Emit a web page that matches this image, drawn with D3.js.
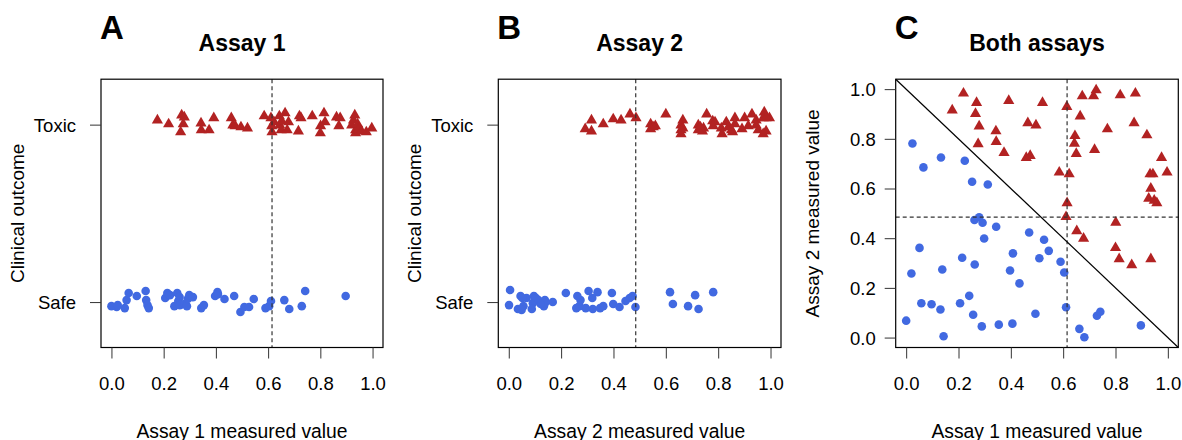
<!DOCTYPE html>
<meta charset="utf-8">
<style>
    body { margin: 0; background: white; }
    svg { font-family: "Liberation Sans", Arial, sans-serif; }
    .frame { fill: none; stroke: black; stroke-width: 1.2px; }
    .tick line { stroke: #333; }
    .tick text { font-size: 18.5px; fill: black; }
    .safe { fill: #4169E1; }
    .toxic { fill: #B22222; }
    .cut { stroke: #333; stroke-width: 1.2px; stroke-dasharray: 4,3; }
</style>
<svg></svg>
<script src="https://d3js.org/d3.v7.min.js"></script>
<script>
    var toxicA1 = [0.176, 0.219, 0.265, 0.269, 0.275, 0.279, 0.343, 0.344, 0.374, 0.392, 0.459, 0.465,
        0.474, 0.496, 0.521, 0.585, 0.611, 0.614, 0.615, 0.623, 0.643, 0.645, 0.650, 0.652,
        0.665, 0.673, 0.678, 0.716, 0.720, 0.726, 0.769, 0.800, 0.801, 0.814, 0.818, 0.862,
        0.871, 0.876, 0.920, 0.927, 0.932, 0.935, 0.935, 0.943, 0.948, 0.958, 0.976, 0.997];
    var toxicA2 = [0.915, 0.983, 0.901, 0.945, 0.779, 0.851, 0.831, 0.788, 0.744, 0.953, 0.724, 0.864,
        0.732, 0.855, 0.945, 0.665, 0.486, 0.929, 0.542, 0.658, 0.781, 0.812, 0.740, 0.429,
        0.891, 0.972, 0.399, 0.972, 0.756, 0.996, 0.839, 0.361, 0.463, 0.316, 0.976, 0.292,
        0.864, 0.983, 0.815, 0.560, 0.658, 0.600, 0.316, 0.658, 0.552, 0.542, 0.724, 0.665];
    var toxicJitA = [0.025, 0.003, -0.042, 0.053, 0.003, 0.042, 0.008, -0.031, -0.031, 0.037, 0.037, -0.003,
        -0.008, -0.014, -0.020, 0.048, 0.037, -0.008, -0.042, 0.014, 0.048, -0.003, -0.031, 0.020,
        0.065, -0.031, 0.014, -0.037, 0.048, 0.037, 0.048, -0.048, -0.008, 0.065, 0.014, 0.042,
        -0.008, 0.037, -0.003, 0.025, 0.053, -0.031, -0.048, 0.003, -0.025, -0.037, -0.042, -0.020];
    var toxicJitB = [-0.008, -0.037, 0.037, 0.025, 0.020, -0.031, 0.014, 0.014, -0.020, -0.031, -0.003, 0.037,
        -0.014, -0.042, -0.003, 0.025, 0.037, 0.059, 0.003, -0.003, -0.008, -0.020, -0.037, 0.025,
        -0.025, 0.037, 0.031, -0.053, 0.059, 0.037, -0.014, 0.003, 0.059, 0.025, 0.070, -0.025,
        0.003, 0.037, -0.053, -0.008, -0.031, 0.059, -0.037, -0.053, -0.014, -0.025, -0.031, -0.020];

    var safeA1 = [0.000, 0.020, 0.024, 0.051, 0.058, 0.066, 0.097, 0.131, 0.133, 0.138, 0.143, 0.206,
        0.214, 0.224, 0.241, 0.252, 0.256, 0.261, 0.262, 0.279, 0.289, 0.292, 0.298, 0.312,
        0.344, 0.354, 0.397, 0.406, 0.408, 0.433, 0.470, 0.494, 0.509, 0.527, 0.545, 0.590,
        0.604, 0.611, 0.662, 0.681, 0.729, 0.742, 0.897];
    var safeA2 = [0.068, 0.258, 0.781, 0.361, 0.138, 0.685, 0.134, 0.113, 0.725, 0.274, 0.005, 0.138,
        0.321, 0.712, 0.168, 0.627, 0.092, 0.473, 0.294, 0.484, 0.045, 0.462, 0.399, 0.616,
        0.446, 0.052, 0.270, 0.056, 0.339, 0.218, 0.423, 0.096, 0.319, 0.394, 0.349, 0.305,
        0.262, 0.122, 0.035, 0.001, 0.088, 0.104, 0.049];
    var safeJitA = [-0.023, -0.028, -0.017, -0.034, 0.011, 0.051, 0.034, 0.062, 0.011, -0.017, -0.034, 0.023,
        0.051, 0.039, -0.023, 0.051, 0.006, 0.028, -0.017, -0.011, -0.023, 0.017, 0.039, 0.028,
        -0.034, -0.017, 0.034, 0.056, 0.045, 0.017, 0.034, -0.056, -0.028, -0.028, 0.017, -0.034,
        -0.023, 0.006, 0.011, -0.039, -0.023, 0.062, 0.034];
    var safeJitB = [0.023, -0.034, 0.056, -0.023, 0.011, -0.023, -0.023, 0.011, -0.039, 0.011, 0.068, -0.006,
        -0.039, 0.039, 0.000, -0.011, -0.006, 0.034, -0.034, -0.028, 0.034, 0.023, -0.011, 0.056,
        0.006, 0.023, -0.023, -0.023, 0.056, 0.051, -0.028, 0.034, 0.023, 0.051, -0.034, 0.062,
        0.034, -0.011, -0.039, -0.017, -0.039, 0.023, -0.045];

    var cut1 = 0.615;
    var cut2 = 0.485;
    var valueTicks = [0, 0.2, 0.4, 0.6, 0.8, 1.0];
    var outcomeLabels = ['Safe', 'Toxic'];

    var svg = d3.select('svg').attr('width', 1182).attr('height', 440);
    var plotTop = 79.2, plotBottom = 347.5;

    // one plot region per panel
    function panel(left, right, yDomain) {
        var x = d3.scaleLinear().domain([-0.04, 1.04]).range([left, right]);
        var y = d3.scaleLinear().domain(yDomain).range([plotBottom, plotTop]);
        return {x: x, y: y, left: left, right: right};
    }
    var pA = panel(101, 383, [0.744, 2.256]);
    var pB = panel(498.3, 781, [0.744, 2.256]);
    var pC = panel(895.7, 1178.3, [-0.04, 1.04]);

    function xAxis(p, label) {
        var g = svg.append('g').attr('transform', 'translate(0,' + plotBottom + ')')
            .call(d3.axisBottom(p.x).tickValues(valueTicks).tickFormat(d3.format('.1f')).tickSize(11));
        g.select('.domain').remove();
        g.selectAll('.tick text').attr('y', 42.5).attr('dy', 0);
        svg.append('text').attr('x', (p.left + p.right) / 2).attr('y', 437.5)
            .attr('text-anchor', 'middle').style('font-size', '19.3px').text(label);
    }
    function yAxis(p, ticks, fmt, labelGap, label) {
        var g = svg.append('g').attr('transform', 'translate(' + p.left + ',0)')
            .call(d3.axisLeft(p.y).tickValues(ticks).tickFormat(fmt).tickSize(11));
        g.select('.domain').remove();
        g.selectAll('.tick text').attr('x', -labelGap).attr('dy', '0.35em');
        svg.append('text')
            .attr('transform', 'translate(' + (p.left - 77) + ',' + (plotTop + plotBottom) / 2 + ') rotate(-90)')
            .attr('text-anchor', 'middle').style('font-size', '19px').text(label);
    }
    function titles(p, letter, title) {
        svg.append('text').attr('x', p.left - 1).attr('y', 39)
            .style('font-size', '33px').style('font-weight', 'bold').text(letter);
        svg.append('text').attr('x', (p.left + p.right) / 2).attr('y', 51).attr('text-anchor', 'middle')
            .style('font-size', '23px').style('font-weight', 'bold').text(title);
    }
    function frame(p) {
        svg.append('rect').attr('class', 'frame')
            .attr('x', p.left).attr('y', plotTop).attr('width', p.right - p.left).attr('height', plotBottom - plotTop);
    }

    var tri = d3.symbol().type(d3.symbolTriangle).size(54);
    function drawPoints(p, xs, ys, cls) {
        if (cls === 'safe') {
            svg.append('g').selectAll('circle').data(xs).enter().append('circle')
                .attr('class', cls)
                .attr('cx', function (d) { return p.x(d); })
                .attr('cy', function (d, i) { return p.y(ys[i]); })
                .attr('r', 4.3);
        } else {
            svg.append('g').selectAll('path').data(xs).enter().append('path')
                .attr('class', cls).attr('d', tri)
                .attr('transform', function (d, i) { return 'translate(' + p.x(d) + ',' + p.y(ys[i]) + ')'; });
        }
    }
    function vCut(p, v) {
        svg.append('line').attr('class', 'cut')
            .attr('x1', p.x(v)).attr('x2', p.x(v)).attr('y1', plotTop).attr('y2', plotBottom);
    }

    // Panel A
    drawPoints(pA, safeA1, safeJitA.map(function (j) { return 1 + j; }), 'safe');
    drawPoints(pA, toxicA1, toxicJitA.map(function (j) { return 2 + j; }), 'toxic');
    vCut(pA, cut1);
    frame(pA);
    xAxis(pA, 'Assay 1 measured value');
    yAxis(pA, [1, 2], function (d) { return outcomeLabels[d - 1]; }, 25, 'Clinical outcome');
    titles(pA, 'A', 'Assay 1');

    // Panel B
    drawPoints(pB, safeA2, safeJitB.map(function (j) { return 1 + j; }), 'safe');
    drawPoints(pB, toxicA2, toxicJitB.map(function (j) { return 2 + j; }), 'toxic');
    vCut(pB, cut2);
    frame(pB);
    xAxis(pB, 'Assay 2 measured value');
    yAxis(pB, [1, 2], function (d) { return outcomeLabels[d - 1]; }, 25, 'Clinical outcome');
    titles(pB, 'B', 'Assay 2');

    // Panel C
    drawPoints(pC, safeA1, safeA2, 'safe');
    drawPoints(pC, toxicA1, toxicA2, 'toxic');
    vCut(pC, cut1);
    svg.append('line').attr('class', 'cut')
        .attr('x1', pC.left).attr('x2', pC.right).attr('y1', pC.y(cut2)).attr('y2', pC.y(cut2));
    svg.append('line').attr('stroke', 'black').attr('stroke-width', 1.2)
        .attr('x1', pC.x(-0.04)).attr('y1', pC.y(1.04)).attr('x2', pC.x(1.04)).attr('y2', pC.y(-0.04));
    frame(pC);
    xAxis(pC, 'Assay 1 measured value');
    yAxis(pC, valueTicks, d3.format('.1f'), 20, 'Assay 2 measured value');
    titles(pC, 'C', 'Both assays');
</script>
